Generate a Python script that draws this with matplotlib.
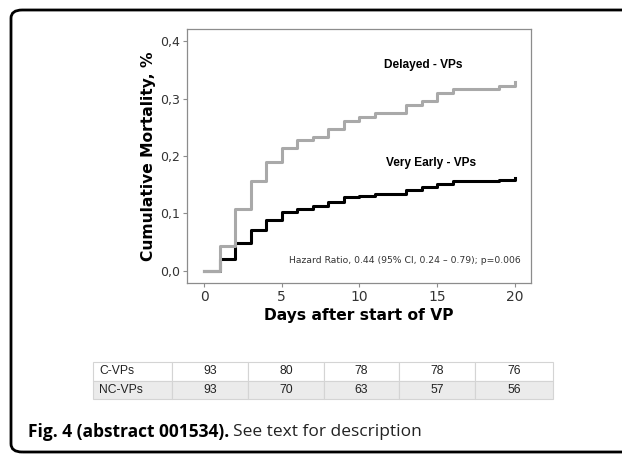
import numpy as np
import matplotlib.pyplot as plt
from matplotlib.patches import FancyBboxPatch
from matplotlib.ticker import FuncFormatter

# Kaplan-Meier style cumulative mortality
days = [0, 1, 2, 3, 4, 5, 6, 7, 8, 9, 10, 11, 12, 13, 14, 15, 16, 17, 18, 19, 20]
delayed = [0.000, 0.043, 0.107, 0.156, 0.189, 0.214, 0.227, 0.233, 0.247, 0.261, 0.268,
           0.275, 0.275, 0.288, 0.296, 0.310, 0.316, 0.316, 0.316, 0.322, 0.328]
very_early = [0.000, 0.020, 0.049, 0.072, 0.089, 0.102, 0.108, 0.113, 0.120, 0.128, 0.131,
              0.134, 0.134, 0.141, 0.146, 0.152, 0.157, 0.157, 0.157, 0.159, 0.162]

# numbers at risk table
row_labels = ['C-VPs', 'NC-VPs']
c_vps = [93, 80, 78, 78, 76]
nc_vps = [93, 70, 63, 57, 56]

W, H = 622, 455
fig = plt.figure(figsize=(W / 100, H / 100), dpi=100)

# rounded frame (right and bottom edges run off the picture)
frame = FancyBboxPatch((11 / W, 1 - 452 / H), 700 / W, 442 / H,
                       boxstyle='round,pad=0,rounding_size=0.018',
                       transform=fig.transFigure, fill=False,
                       edgecolor='black', linewidth=2.0)
fig.patches.append(frame)

ax = fig.add_axes([187 / W, 1 - 283 / H, 344 / W, 254 / H])
ax.step(days, very_early, where='post', color='black', linewidth=2.2, zorder=2)
ax.step(days, delayed, where='post', color='#a9a9a9', linewidth=2.2, zorder=3)

ax.set_xlim(-1.1, 21.05)
ax.set_ylim(-0.021, 0.421)
ax.set_xticks([0, 5, 10, 15, 20])
ax.set_yticks([0.0, 0.1, 0.2, 0.3, 0.4])
ax.yaxis.set_major_formatter(FuncFormatter(lambda v, p: ('%.1f' % v).replace('.', ',')))
for s in ax.spines.values():
    s.set_color('#8c8c8c')
    s.set_linewidth(0.9)
ax.tick_params(axis='both', direction='out', length=3, width=0.8, color='#8c8c8c',
               labelsize=9, labelcolor='#333333', pad=2)
ax.tick_params(axis='x', labelsize=10)

ax.set_ylabel('Cumulative Mortality, %', fontsize=11.2, fontweight='bold', labelpad=3)
ax.set_xlabel('Days after start of VP', fontsize=11.2, fontweight='bold', labelpad=3)

ax.text(14.1, 0.358, 'Delayed - VPs', ha='center', va='center', fontsize=8.6,
        fontweight='bold', family='Liberation Sans')
ax.text(14.6, 0.188, 'Very Early - VPs', ha='center', va='center', fontsize=8.6,
        fontweight='bold', family='Liberation Sans')
ax.text(12.95, 0.019, 'Hazard Ratio, 0.44 (95% CI, 0.24 \u2013 0.79); p=0.006',
        ha='center', va='center', fontsize=6.7, color='#333333')

# table
tax = fig.add_axes([93 / W, 1 - 399 / H, 460 / W, 37 / H])
tax.axis('off')
cells = [[row_labels[0]] + [str(v) for v in c_vps],
         [row_labels[1]] + [str(v) for v in nc_vps]]
widths = np.array([79, 76, 76, 75, 76, 78], dtype=float)
tbl = tax.table(cellText=cells, colWidths=list(widths / widths.sum()),
                bbox=[0, 0, 1, 1], cellLoc='center')
tbl.auto_set_font_size(False)
for (r, c), cell in tbl.get_celld().items():
    cell.set_edgecolor('#d4d4d4')
    cell.set_linewidth(0.8)
    cell.set_facecolor('white' if r == 0 else '#ebebeb')
    cell.get_text().set_fontsize(8.7)
    cell.get_text().set_family('Liberation Sans')
    cell.get_text().set_color('#222222')
    if c == 0:
        cell.get_text().set_horizontalalignment('left')
        cell.PAD = 0.08

# caption
t1 = fig.text(28 / W, 1 - 432 / H, 'Fig. 4 (abstract 001534).', fontsize=12.5,
              fontweight='bold', family='Open Sans', va='center', ha='left')
fig.canvas.draw()
bb = t1.get_window_extent()
fig.text((bb.x1 + 4) / W, 1 - 432 / H, 'See text for description', fontsize=12.5,
         family='Open Sans', va='center', ha='left', color='#222222')

fig.savefig('out.png', dpi=100)
